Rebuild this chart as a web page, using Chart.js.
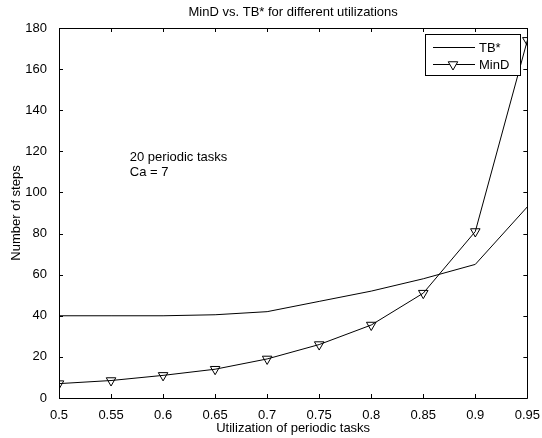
<!DOCTYPE html>
<html>
<head>
<meta charset="utf-8">
<script src="https://cdn.jsdelivr.net/npm/chart.js@4"></script>
<style>
html,body{margin:0;padding:0;background:#fff;}
#wrap{width:542px;height:438px;}
</style>
</head>
<body>
<div id="wrap"><canvas id="c" width="542" height="438"></canvas></div>
<script>
const utilizations = [0.5, 0.55, 0.6, 0.65, 0.7, 0.75, 0.8, 0.85, 0.9, 0.95];
const tbStar = [40, 40, 40, 40.5, 42, 47, 52, 58, 65, 93];
const minD = [7, 8.5, 11, 14, 19, 26, 35.5, 51, 81, 174];
const seriesNames = ['TB*', 'MinD'];
const chartTitle = 'MinD vs. TB* for different utilizations';
const xLabel = 'Utilization of periodic tasks';
const yLabel = 'Number of steps';
const noteLines = ['20 periodic tasks', 'Ca = 7'];
const notePos = {x: 0.568, y: 117};

const FONT = "'Liberation Sans', Arial, Helvetica, sans-serif";
const FS = 13;

const framePlugin = {
  id: 'frame',
  afterDraw(chart) {
    const ctx = chart.ctx;
    const a = chart.chartArea;
    const xs = chart.scales.x, ys = chart.scales.y;
    ctx.save();
    ctx.strokeStyle = '#000';
    ctx.lineWidth = 1;
    ctx.beginPath();
    ctx.rect(Math.round(a.left) + 0.5, Math.round(a.top) + 0.5, Math.round(a.right - a.left), Math.round(a.bottom - a.top));
    ctx.stroke();
    const tl = 4;
    ctx.beginPath();
    xs.ticks.forEach(t => {
      const px = Math.round(xs.getPixelForValue(t.value)) + 0.5;
      ctx.moveTo(px, a.bottom); ctx.lineTo(px, a.bottom - tl);
      ctx.moveTo(px, a.top); ctx.lineTo(px, a.top + tl);
    });
    ys.ticks.forEach(t => {
      const py = Math.round(ys.getPixelForValue(t.value)) + 0.5;
      ctx.moveTo(a.left, py); ctx.lineTo(a.left + tl, py);
      ctx.moveTo(a.right, py); ctx.lineTo(a.right - tl, py);
    });
    ctx.stroke();

    // title
    ctx.fillStyle = '#000';
    ctx.font = FS + 'px ' + FONT;
    ctx.textAlign = 'center';
    ctx.textBaseline = 'middle';
    ctx.fillText(chartTitle, (a.left + a.right) / 2, 12);

    // annotation
    ctx.textAlign = 'left';
    const nx = xs.getPixelForValue(notePos.x), ny = ys.getPixelForValue(notePos.y);
    noteLines.forEach((s, i) => ctx.fillText(s, nx, ny + i * 15));

    // legend
    const lx = 425, ly = 34, lw = 95, lh = 41;
    ctx.fillStyle = '#fff';
    ctx.fillRect(lx, ly, lw, lh);
    ctx.strokeStyle = '#000';
    ctx.strokeRect(lx + 0.5, ly + 0.5, lw, lh);
    ctx.beginPath();
    ctx.moveTo(lx + 8, ly + 13.5); ctx.lineTo(lx + 50, ly + 13.5);
    ctx.moveTo(lx + 8, ly + 30.5); ctx.lineTo(lx + 50, ly + 30.5);
    ctx.stroke();
    Chart.helpers.drawPoint(ctx, {pointStyle: 'triangle', rotation: 180, radius: 5.5, borderWidth: 1}, lx + 28, ly + 30.5);
    ctx.fillStyle = '#000';
    ctx.fillText(seriesNames[0], lx + 54, ly + 14);
    ctx.fillText(seriesNames[1], lx + 54, ly + 31);
    ctx.restore();
  }
};

new Chart(document.getElementById('c'), {
  type: 'line',
  data: {
    datasets: [
      {
        label: seriesNames[0],
        data: utilizations.map((u, i) => ({x: u, y: tbStar[i]})),
        borderColor: '#000', borderWidth: 1, pointRadius: 0, tension: 0, fill: false
      },
      {
        label: seriesNames[1],
        data: utilizations.map((u, i) => ({x: u, y: minD[i]})),
        borderColor: '#000', borderWidth: 1, tension: 0, fill: false,
        pointStyle: 'triangle', pointRotation: 180, pointRadius: 5.5,
        pointBorderColor: '#000', pointBackgroundColor: 'rgba(255,255,255,0)', pointBorderWidth: 1
      }
    ]
  },
  options: {
    responsive: false,
    animation: false,
    devicePixelRatio: 1,
    layout: {padding: {top: 28, right: 14, left: 0, bottom: 0}, autoPadding: false},
    plugins: {legend: {display: false}, title: {display: false}, tooltip: {enabled: false}},
    scales: {
      x: {
        type: 'linear', min: 0.5, max: 0.95,
        ticks: {stepSize: 0.05, color: '#000', font: {size: FS, family: FONT}, padding: 2, maxRotation: 0,
          callback: v => String(Math.round(v * 100) / 100)},
        grid: {display: false, drawTicks: true},
        border: {display: false},
        title: {display: true, text: xLabel, color: '#000', font: {size: FS, family: FONT}, padding: {top: 0, bottom: 2}},
        afterFit: s => { s.height = 40; }
      },
      y: {
        min: 0, max: 180,
        ticks: {stepSize: 20, color: '#000', font: {size: FS, family: FONT}, padding: 4},
        grid: {display: false},
        border: {display: false},
        title: {display: true, text: yLabel, color: '#000', font: {size: FS, family: FONT}, padding: {top: 9, bottom: 0}},
        afterFit: s => { s.width = 59; }
      }
    }
  },
  plugins: [framePlugin]
});
</script>
</body>
</html>
